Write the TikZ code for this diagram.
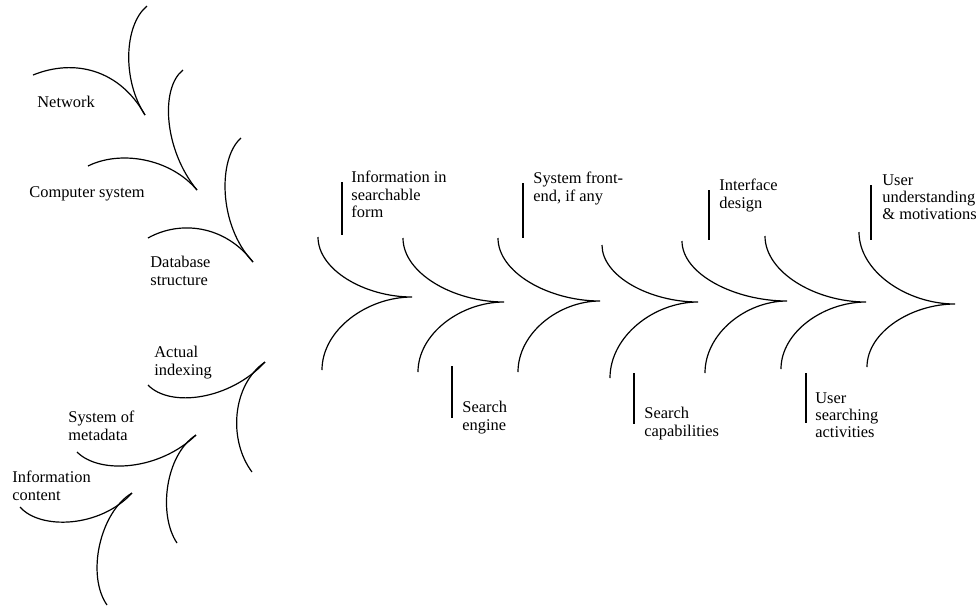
\documentclass[tikz,border=0pt]{standalone}
\usepackage{fontspec}
\setmainfont{Liberation Serif}
\usepackage{tikz}
\tikzset{
lbl/.style={
  anchor=north west,
  inner sep=0pt,
  align=left,
  font=\fontsize{8.2}{8.7}\selectfont
},
vane/.style={line width=0.6pt},
bar/.style={line width=0.7pt},
}

\begin{document}
\begin{tikzpicture}[x=0.5pt,y=-0.5pt]
\useasboundingbox (0,0) rectangle (976,607);
% the chevrons of the main chain
\foreach \ux/\uy/\tx/\ty/\lx/\ly in {318/237/412/297/322/370,
  403/238/504/302/418/372, 498/238/600/301/518/372,
  602/245/698/302/610/378, 682/241/787/301/705/373,
  765/236/866/302/781/369, 859/232/955/304/867/367}
{
  \draw[vane] (\ux,\uy) .. controls +(0,{0.55*(\ty-\uy)}) and +({-0.5*(\tx-\ux)},0) .. (\tx,\ty)
    .. controls +({-0.5*(\tx-\lx)},0) and +(0,{-0.55*(\ly-\ty)}) .. (\lx,\ly);
}
% the upper feathers
\draw[vane] (147,6) .. controls (124,25) and (122,80) .. (145,115);
\draw[vane] (33,75) .. controls (75,58) and (120,70) .. (145,115);
\draw[vane] (183,70) .. controls (160,88) and (164,150) .. (197,190);
\draw[vane] (88,166) .. controls (120,150) and (170,158) .. (197,190);
\draw[vane] (241,138) .. controls (218,158) and (218,225) .. (253,262);
\draw[vane] (148,238) .. controls (180,220) and (225,225) .. (253,262);
% the lower feathers
\draw[vane] (148,385) .. controls (170,408) and (230,400) .. (265,362);
\draw[vane] (265,362) .. controls (232,385) and (228,440) .. (252,472);
\draw[vane] (77,452) .. controls (100,475) and (160,470) .. (196,435);
\draw[vane] (196,435) .. controls (165,455) and (158,515) .. (177,543);
\draw[vane] (20,507) .. controls (40,530) and (100,528) .. (132,493);
\draw[vane] (132,493) .. controls (100,512) and (86,575) .. (107,605);
% the labels
\node[lbl] (net) at (37,96) {Network};
\node[lbl] (comp) at (29,186) {Computer system};
\node[lbl] (dbs) at (150,256) {Database\\structure};
\node[lbl] (idx) at (154,346) {Actual\\indexing};
\node[lbl] (meta) at (68,411) {System of\\metadata};
\node[lbl] (cont) at (12,471) {Information\\content};
\node[lbl] (info) at (351,171) {Information in\\searchable\\form};
\node[lbl] (front) at (533,172) {System front-\\end, if any};
\node[lbl] (iface) at (719,179) {Interface\\design};
\node[lbl] (motiv) at (882,174) {User\\understanding\\\& motivations};
\node[lbl] (engine) at (462,401) {Search\\engine};
\node[lbl] (capab) at (644,407) {Search\\capabilities};
\node[lbl] (activ) at (815,392) {User\\searching\\activities};
% the bars
\draw[bar] (342,182) -- (342,235);
\draw[bar] (523,183) -- (523,238);
\draw[bar] (709,190) -- (709,240);
\draw[bar] (871,185) -- (871,240);
\draw[bar] (452,366) -- (452,418);
\draw[bar] (634,373) -- (634,424);
\draw[bar] (806,373) -- (806,423);
\end{tikzpicture}
\end{document}
